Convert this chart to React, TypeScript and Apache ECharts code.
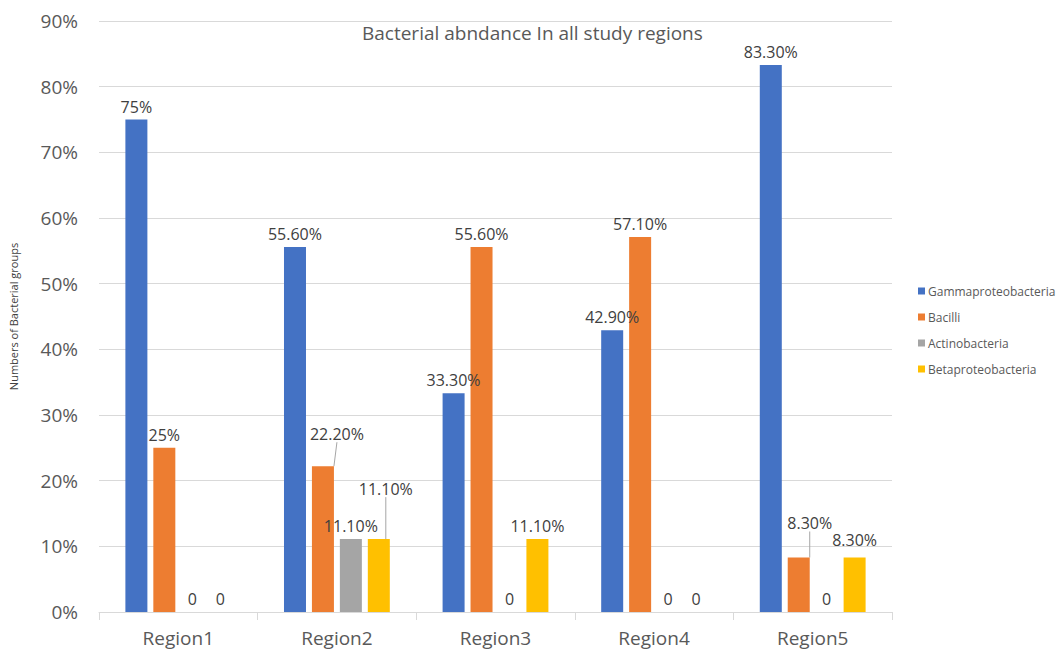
import React, { useEffect, useRef } from "react";
import * as echarts from "echarts";

const categories = ["Region1", "Region2", "Region3", "Region4", "Region5"];
const seriesNames = ["Gammaproteobacteria", "Bacilli", "Actinobacteria", "Betaproteobacteria"];
const gamma = [75, 55.6, 33.3, 42.9, 83.3];
const bacilli = [25, 22.2, 55.6, 57.1, 8.3];
const actino = [0, 11.1, 0, 0, 0];
const beta = [0, 11.1, 11.1, 0, 8.3];
const colors = ["#4472C4", "#ED7D31", "#A5A5A5", "#FFC000"];
const yTicks = [0, 10, 20, 30, 40, 50, 60, 70, 80, 90];

// label shifts (with leader lines) for a few crowded labels: [seriesIndex][dataIndex] -> [dx, dy]
const shifted: Record<string, [number, number]> = {
  "1-1": [14, -19],
  "1-4": [11, -21],
  "3-1": [7, -37],
};

const FONT = "'Open Sans', 'Noto Sans', sans-serif";

function fmt(v: number): string {
  if (v === 0) return "0";
  if (Number.isInteger(v)) return v + "%";
  return v.toFixed(2) + "%";
}

export default function App() {
  const ref = useRef<HTMLDivElement>(null);
  useEffect(() => {
    document.body.style.margin = "0";
    const chart = echarts.init(ref.current!, null, { renderer: "svg" });
    const all = [gamma, bacilli, actino, beta];
    const series = all.map((vals, si) => ({
      name: seriesNames[si],
      type: "bar",
      barWidth: 22,
      barGap: "27%",
      itemStyle: { color: colors[si] },
      label: {
        show: true,
        position: "top",
        distance: 5,
        fontFamily: FONT,
        fontSize: 16,
        color: "#404040",
        formatter: (p: any) => fmt(p.value),
      },
      labelLayout: (p: any) => {
        const s = shifted[si + "-" + p.dataIndex];
        if (s) return { dx: s[0], dy: s[1] };
        if (si === 3 && p.dataIndex === 4) return { dy: -4 };
        return {};
      },
      data: vals.map((v, di) => {
        const s = shifted[si + "-" + di];
        return s
          ? {
              value: v,
              labelLine: { show: true, length: 0, length2: 0, lineStyle: { color: "#A6A6A6", width: 1 } },
            }
          : { value: v };
      }),
    }));
    chart.setOption({
      animation: false,
      backgroundColor: "#ffffff",
      color: colors,
      title: {
        text: "Bacterial abndance In all study regions",
        left: 357,
        top: 18,
        textStyle: { fontFamily: FONT, fontSize: 19, fontWeight: "normal", color: "#595959" },
      },
      legend: {
        orient: "vertical",
        left: 913,
        top: 280,
        itemWidth: 7,
        itemHeight: 7,
        itemGap: 14,
        icon: "rect",
        textStyle: { fontFamily: FONT, fontSize: 12, color: "#595959", padding: [0, 0, 0, -2] },
        data: seriesNames,
      },
      grid: { left: 96, right: 165, top: 21, bottom: 41, containLabel: false },
      xAxis: {
        type: "category",
        data: categories,
        axisLine: { lineStyle: { color: "#D9D9D9" } },
        axisTick: { show: true, length: 8, lineStyle: { color: "#D9D9D9" } },
        axisLabel: { fontFamily: FONT, fontSize: 19, color: "#595959", margin: 16 },
      },
      yAxis: {
        type: "value",
        min: yTicks[0],
        max: yTicks[yTicks.length - 1],
        interval: 10,
        name: "Numbers of Bacterial groups",
        nameLocation: "middle",
        nameRotate: 90,
        nameGap: 80,
        nameTextStyle: { fontFamily: FONT, fontSize: 11, color: "#404040" },
        axisLine: { show: false },
        axisTick: { show: false },
        axisLabel: { fontFamily: FONT, fontSize: 19, color: "#595959", margin: 21, formatter: "{value}%" },
        splitLine: { lineStyle: { color: "#D9D9D9", width: 1 } },
      },
      series,
    });
    return () => chart.dispose();
  }, []);
  return <div ref={ref} style={{ width: 1057, height: 653 }} />;
}
